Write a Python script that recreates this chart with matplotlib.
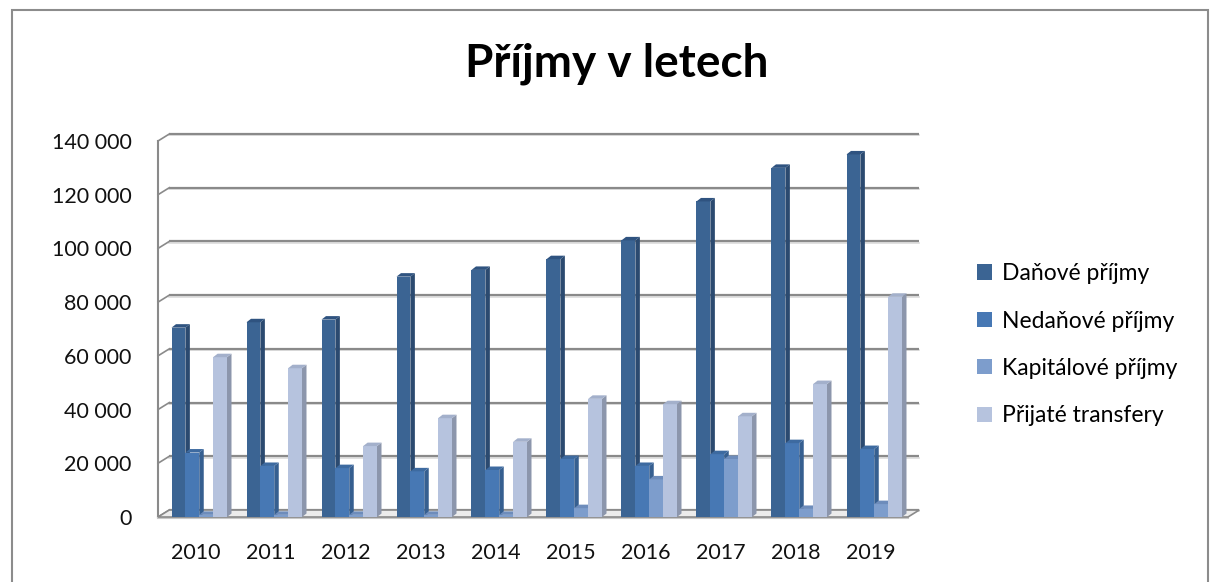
import numpy as np
import matplotlib.pyplot as plt
from matplotlib.patches import Polygon, Rectangle, Patch
from matplotlib.ticker import FuncFormatter

plt.rcParams['font.family'] = ['Lato', 'DejaVu Sans']

# Data
years = ['2010', '2011', '2012', '2013', '2014', '2015', '2016', '2017', '2018', '2019']
series_names = ['Daňové příjmy', 'Nedaňové příjmy', 'Kapitálové příjmy', 'Přijaté transfery']
danove = [70500, 72500, 73500, 89500, 92000, 96000, 103000, 117500, 130000, 135000]
nedanove = [24000, 19000, 18200, 17000, 17500, 21600, 19000, 23400, 27500, 25300]
kapitalove = [800, 800, 800, 800, 800, 3300, 14000, 21600, 3000, 4800]
transfery = [59500, 55400, 26400, 36800, 28000, 44000, 42000, 37500, 49500, 82000]
yticks = [0, 20000, 40000, 60000, 80000, 100000, 120000, 140000]

front_colors = ['#3b6493', '#4778b4', '#7d9dcc', '#b6c3de']
side_colors = ['#2b4a70', '#365f90', '#5f7ca8', '#8c96ac']
top_colors = ['#2f5380', '#3d6aa0', '#6d8cbb', '#a3b0cb']

W, H = 1213, 582
fig = plt.figure(figsize=(W / 100, H / 100), dpi=100)
fig.patch.set_facecolor('white')

# outer chart border
fig.patches.append(Rectangle((12 / W, -0.05), 1196 / W, 1.05 - 10 / H, transform=fig.transFigure,
                             fill=False, edgecolor='#8c8c8c', linewidth=1.5))

ax = fig.add_axes([158 / W, (H - 517) / H, 750 / W, 376 / H])
ax.set_xlim(-0.5, 9.5)
ax.set_ylim(0, 140000)
for s in ax.spines.values():
    s.set_visible(False)
ax.patch.set_alpha(0)

# 3D depth of the walls (data units)
dx, dy = 0.15, 2600
x0, x1 = -0.5, 9.5

# back wall gridlines + left wall diagonals
for v in yticks:
    ax.plot([x0 + dx, x1 + dx], [v + dy, v + dy], color='#8a8a8a', lw=1.6, clip_on=False, zorder=1,
            solid_capstyle='butt')
    ax.plot([x0 + dx, x1 + dx], [v + dy - 500, v + dy - 500], color='#dcdcdc', lw=1.2, clip_on=False,
            zorder=0.9)
    ax.plot([x0, x0 + dx], [v, v + dy], color='#8a8a8a', lw=1.2, clip_on=False, zorder=1)
ax.plot([x0, x0], [0, 140000], color='#8a8a8a', lw=1.5, clip_on=False, zorder=1)

# floor
floor = Polygon([(x0, 0), (x1, 0), (x1 + dx, dy), (x0 + dx, dy)], closed=True,
                facecolor='#ececec', edgecolor='#8a8a8a', lw=1.2, clip_on=False, zorder=1.5)
ax.add_patch(floor)
ax.plot([x0, x1], [-500, -500], color='#c8c8c8', lw=1.5, clip_on=False, zorder=1.4)

# bars with pseudo 3D faces
series = [danove, nedanove, kapitalove, transfery]
x = np.arange(len(years))
w = 0.185
bdx, bdy = 0.06, 1300
for k, vals in enumerate(series):
    xs = x + 0.05 + (k - 1.5) * w
    z = 2 + k
    ax.bar(xs, vals, width=w, color=front_colors[k], zorder=z, linewidth=0)
    for xc, v in zip(xs, vals):
        r = xc + w / 2
        l = xc - w / 2
        ax.add_patch(Polygon([(r, 0), (r + bdx, bdy), (r + bdx, v + bdy), (r, v)], closed=True,
                             facecolor=side_colors[k], edgecolor='none', zorder=z, clip_on=False))
        ax.add_patch(Polygon([(l, v), (l + bdx, v + bdy), (r + bdx, v + bdy), (r, v)], closed=True,
                             facecolor=top_colors[k], edgecolor='none', zorder=z, clip_on=False))

ax.set_xticks(x)
ax.set_xticklabels(years, fontsize=15.5)
ax.set_yticks(yticks)
ax.yaxis.set_major_formatter(FuncFormatter(lambda v, p: f'{int(v):,}'.replace(',', ' ')))
ax.tick_params(axis='y', labelsize=15.5, length=0, pad=19)
ax.tick_params(axis='x', length=0, pad=19)
for t in ax.get_yticklabels() + ax.get_xticklabels():
    t.set_color('#111111')

fig.text(617 / W, 1 - 64 / H, 'Příjmy v letech', ha='center', va='center', fontsize=33,
         fontweight='bold', color='black')

handles = [Patch(facecolor=c, edgecolor='none') for c in front_colors]
fig.legend(handles, series_names, loc='upper left', bbox_to_anchor=(968 / W, 1 - 254 / H),
           frameon=False, fontsize=16.5, handlelength=0.65, handleheight=0.65, handletextpad=0.45,
           labelspacing=1.15, borderaxespad=0)

fig.savefig('out.png', dpi=100)
